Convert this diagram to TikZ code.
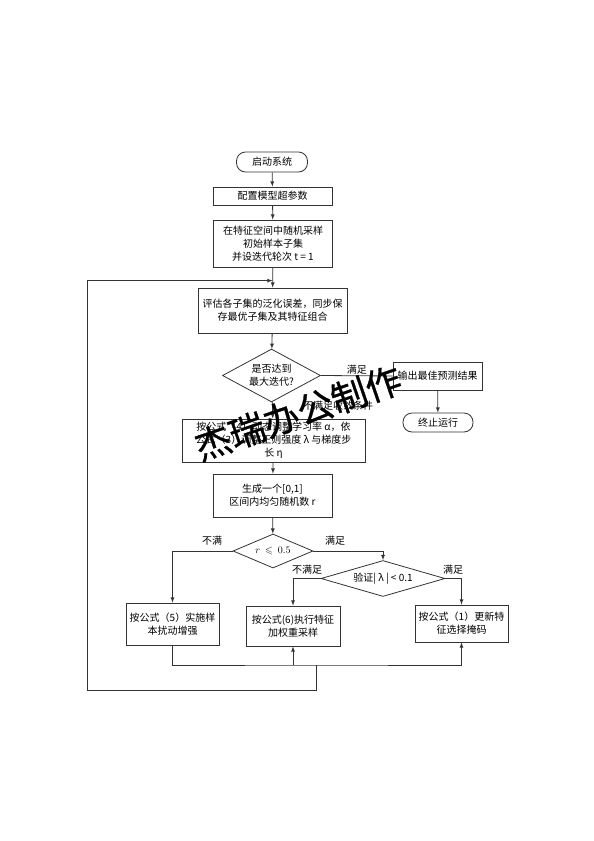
\documentclass[tikz,border=0pt]{standalone}
\usepackage{amsmath, amssymb}
\usepackage{fontspec}
\setmainfont{Liberation Serif}
\newfontfamily\cjk{Noto Sans CJK SC}
\newfontfamily\markfont[FakeBold=0.8]{Noto Sans CJK SC}
\usepackage{tikz}
\usetikzlibrary{calc, shapes.geometric, positioning}

\tikzset{
    base/.style={draw=black!80, line width=0.8pt, align=center, inner sep=1pt,
        font=\cjk\fontsize{10pt}{13pt}\selectfont},
    procbox/.style={base, rectangle},
    termbox/.style={base, rectangle, rounded corners=9pt},
    decbox/.style={base, diamond, aspect=2.4, inner sep=0pt},
    lbl/.style={font=\cjk\fontsize{10pt}{12pt}\selectfont, inner sep=1pt},
    line/.style={draw=black!80, line width=0.8pt},
    arr/.style={line, ->}
}

\begin{document}
\begin{tikzpicture}[>=latex, x=1pt, y=-1pt]
    \useasboundingbox[fill=white] (0,0) rectangle (594,841);

    % 1. Khoi chinh
    \node[termbox, minimum width=71, minimum height=20] (start) at (272,162) {启动系统};
    \node[procbox, minimum width=119, minimum height=18] (config) at (272.5,196) {配置模型超参数};
    \node[procbox, minimum width=119, minimum height=47] (sample) at (273,243.5)
        {在特征空间中随机采样\\初始样本子集\\并设迭代轮次 t = 1};
    \node[procbox, minimum width=149, minimum height=45] (eval) at (272.5,310.5)
        {评估各子集的泛化误差，同步保\\存最优子集及其特征组合};
    \node[decbox, minimum width=97, minimum height=53] (iter) at (271.5,375.5)
        {是否达到\\最大迭代?};
    \node[procbox, minimum width=89, minimum height=28] (best) at (437.5,376) {输出最佳预测结果};
    \node[termbox, minimum width=70, minimum height=19] (stop) at (438,422.5) {终止运行};
    \node[procbox, minimum width=183, minimum height=43] (adjust) at (273.5,440.5)
        {按公式（4）动态调整学习率 α，依\\公式（3）调整正则强度 λ 与梯度步\\长 η};
    \node[procbox, minimum width=119, minimum height=43] (rand) at (272.5,495.5)
        {生成一个[0,1]\\区间内均匀随机数 r};
    \node[decbox, minimum width=80, minimum height=34] (rtest) at (273,551)
        {$r\ \leqslant\ 0.5$};
    \node[decbox, minimum width=124, minimum height=35] (lamtest) at (383,578.5)
        {验证| λ | < 0.1};

    % 2. Ba nhanh
    \node[procbox, minimum width=93, minimum height=42] (aug) at (172.5,624)
        {按公式（5）实施样\\本扰动增强};
    \node[procbox, minimum width=94, minimum height=40] (resamp) at (293,626)
        {按公式(6)执行特征\\加权重采样};
    \node[procbox, minimum width=93, minimum height=37] (mask) at (461.5,623.5)
        {按公式（1）更新特\\征选择掩码};

    % 3. Mui ten
    \draw[arr] (start) -- (config);
    \draw[arr] (config) -- (sample);
    \draw[arr] (sample) -- (eval);
    \draw[arr] (eval) -- (iter);
    \draw[line] (iter.east) -- (best.west) node[lbl, pos=0.5, above] {满足};
    \draw[arr] (best) -- (stop);
    \draw[arr] (iter) -- (adjust);
    \node[lbl] (notyet) at (338,406) {不满足收敛条件};
    \draw[arr] (adjust) -- (rand);
    \draw[arr] (rand) -- (rtest);
    \draw[arr] (rtest.west) -| (aug.north);
    \node[lbl] (nofit) at (212,541) {不满};
    \draw[arr] (rtest.east) -| (lamtest.north);
    \node[lbl] (fit) at (335,541) {满足};
    \draw[arr] (lamtest.west) -| (resamp.north);
    \node[lbl] (nofitb) at (307,570) {不满足};
    \draw[arr] (lamtest.east) -| (mask.north);
    \node[lbl] (fitb) at (453,570) {满足};

    % 4. Duong hop va vong lap
    \coordinate (bus) at (316,665);
    \coordinate (loopL) at (87,690);
    \draw[arr] (aug.south) |- (bus) -| (mask.south);
    \draw[arr] (resamp.south |- bus) -- (resamp.south);
    \draw[arr] (bus) |- (loopL) |- ($(eval.north)+(0,-7)$);

    % 5. Dau nuoc
    \node[font=\markfont\fontsize{36pt}{36pt}\selectfont, rotate=19, inner sep=0pt] (mark) at (298,413) {杰瑞办公制作};
\end{tikzpicture}
\end{document}
